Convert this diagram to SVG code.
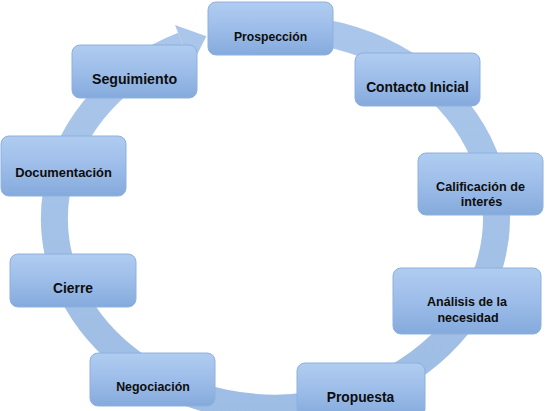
<svg xmlns="http://www.w3.org/2000/svg" width="547" height="411" viewBox="0 0 547 411">
  <defs>
    <linearGradient id="ringGrad" gradientUnits="userSpaceOnUse" x1="0" y1="20" x2="0" y2="420">
      <stop offset="0" stop-color="#AAC6EA"/>
      <stop offset="1" stop-color="#9EBDE4"/>
    </linearGradient>
    <linearGradient id="nodeGrad" x1="0" y1="0" x2="0" y2="1">
      <stop offset="0" stop-color="#B0CCF0"/>
      <stop offset="0.5" stop-color="#9DBDE9"/>
      <stop offset="1" stop-color="#84AADC"/>
    </linearGradient>
    <style>
      .node { fill: url(#nodeGrad); stroke: #8EB0DE; stroke-width: 1; }
      .lbl { font-family: "Liberation Sans", Arial, sans-serif; font-weight: bold; fill: #0D0D0D; text-anchor: middle; }
      .ring { fill: none; stroke: url(#ringGrad); stroke-width: 27; stroke-linecap: butt; }
      .head { fill: url(#ringGrad); }
    </style>
  </defs>
  <rect width="547" height="411" fill="#FFFFFF"/>

  <g id="connectors">
    <path class="ring" d="M 237.1 30.9 A 221 190 0 1 1 183.1 45.4"/>
    <polygon class="head" points="175,24.9 206.4,36.2 191.2,65.9"/>
  </g>

  <g id="node-prospeccion">
    <rect class="node" x="208" y="2" width="125" height="53" rx="8"/>
    <text class="lbl" x="270.5" y="41" font-size="12.2">Prospección</text>
  </g>
  <g id="node-contacto">
    <rect class="node" x="355" y="53" width="125" height="53" rx="8"/>
    <text class="lbl" x="417.5" y="92" font-size="13.8">Contacto Inicial</text>
  </g>
  <g id="node-calificacion">
    <rect class="node" x="418" y="153" width="125" height="62" rx="8"/>
    <text class="lbl" x="480.5" y="191" font-size="12.6">Calificación de</text>
    <text class="lbl" x="481.5" y="206" font-size="12.6">interés</text>
  </g>
  <g id="node-analisis">
    <rect class="node" x="393" y="268" width="148" height="66" rx="8"/>
    <text class="lbl" x="467" y="306" font-size="12.5">Análisis de la</text>
    <text class="lbl" x="468" y="322" font-size="12.5">necesidad</text>
  </g>
  <g id="node-propuesta">
    <rect class="node" x="297" y="363" width="128" height="54" rx="8"/>
    <text class="lbl" x="360.5" y="402" font-size="13.8">Propuesta</text>
  </g>
  <g id="node-negociacion">
    <rect class="node" x="90" y="353" width="125" height="53" rx="8"/>
    <text class="lbl" x="153" y="391" font-size="12.4">Negociación</text>
  </g>
  <g id="node-cierre">
    <rect class="node" x="10" y="254" width="126" height="53" rx="8"/>
    <text class="lbl" x="73" y="293" font-size="13.8">Cierre</text>
  </g>
  <g id="node-documentacion">
    <rect class="node" x="1" y="136" width="125" height="60" rx="8"/>
    <text class="lbl" x="63.5" y="177" font-size="12.9">Documentación</text>
  </g>
  <g id="node-seguimiento">
    <rect class="node" x="72" y="45" width="125" height="53" rx="8"/>
    <text class="lbl" x="134.5" y="84" font-size="14.2">Seguimiento</text>
  </g>
</svg>
